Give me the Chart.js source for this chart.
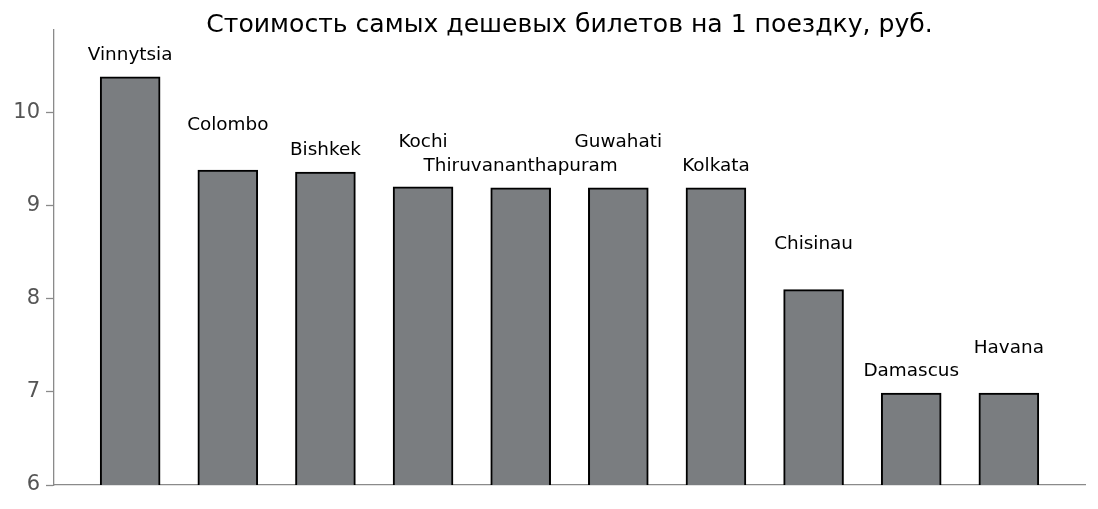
<!DOCTYPE html>
<html>
<head>
<meta charset="utf-8">
<script src="https://cdn.jsdelivr.net/npm/chart.js@4/dist/chart.umd.min.js"></script>
<style>
  html, body { margin: 0; padding: 0; background: #ffffff; }
  #wrap { width: 1098px; height: 509px; position: relative; }
</style>
</head>
<body>
<div id="wrap"><canvas id="c" width="1098" height="509"></canvas></div>
<script>
const titleText = 'Стоимость самых дешевых билетов на 1 поездку, руб.';
const cities = ['Vinnytsia', 'Colombo', 'Bishkek', 'Kochi', 'Thiruvananthapuram', 'Guwahati', 'Kolkata', 'Chisinau', 'Damascus', 'Havana'];
const prices = [10.37, 9.37, 9.35, 9.19, 9.18, 9.18, 9.18, 8.09, 6.98, 6.98];
const yTicks = [6, 7, 8, 9, 10];
const yMin = 6;
const yMax = 10.88;

const FONT = '"DejaVu Sans", "Liberation Sans", sans-serif';

const labelPlugin = {
  id: 'cityLabels',
  afterDatasetsDraw(chart) {
    const ctx = chart.ctx;
    const xs = chart.scales.x, ys = chart.scales.y;
    ctx.save();
    ctx.font = '18.4px ' + FONT;
    ctx.fillStyle = '#000000';
    ctx.textAlign = 'center';
    ctx.textBaseline = 'alphabetic';
    cities.forEach((name, i) => {
      const off = (i % 2 === 0) ? 0.19 : 0.44;
      ctx.fillText(name, xs.getPixelForValue(i), ys.getPixelForValue(prices[i] + off));
    });
    ctx.restore();
  },
  afterDraw(chart) {
    const ctx = chart.ctx;
    const a = chart.chartArea;
    ctx.save();
    ctx.font = '25.1px ' + FONT;
    ctx.fillStyle = '#000000';
    ctx.textAlign = 'center';
    ctx.textBaseline = 'alphabetic';
    ctx.fillText(titleText, (a.left + a.right) / 2, 32);
    ctx.restore();
  }
};

new Chart(document.getElementById('c'), {
  type: 'bar',
  data: {
    datasets: [{
      data: prices.map((v, i) => ({ x: i, y: v })),
      backgroundColor: '#7a7d80',
      borderColor: '#000000',
      borderWidth: 2,
      inflateAmount: 1,
      barPercentage: 0.6,
      categoryPercentage: 1.0
    }]
  },
  options: {
    responsive: false,
    animation: false,
    devicePixelRatio: 1,
    layout: { padding: { top: 30, right: 13, bottom: 24, left: 0 } },
    plugins: {
      legend: { display: false },
      title: { display: false },
      tooltip: { enabled: false }
    },
    scales: {
      x: {
        type: 'linear',
        offset: false,
        min: -0.78,
        max: 9.78,
        afterBuildTicks(scale) { scale.ticks = cities.map((_, i) => ({ value: i })); },
        ticks: { display: false },
        grid: { display: false, drawTicks: false },
        border: { display: true, color: '#8a8a8a', width: 1.3 },
        afterFit(scale) { scale.height = 0; }
      },
      y: {
        min: yMin,
        max: yMax,
        afterBuildTicks(scale) { scale.ticks = yTicks.map(v => ({ value: v })); },
        ticks: {
          color: '#555555',
          font: { family: FONT, size: 21 },
          padding: 6
        },
        grid: {
          display: true,
          drawOnChartArea: false,
          drawTicks: true,
          tickLength: 8,
          tickWidth: 1.3,
          color: '#8a8a8a'
        },
        border: { display: true, color: '#8a8a8a', width: 1.3 },
        afterFit(scale) { scale.width = 54; }
      }
    }
  },
  plugins: [labelPlugin]
});
</script>
</body>
</html>
